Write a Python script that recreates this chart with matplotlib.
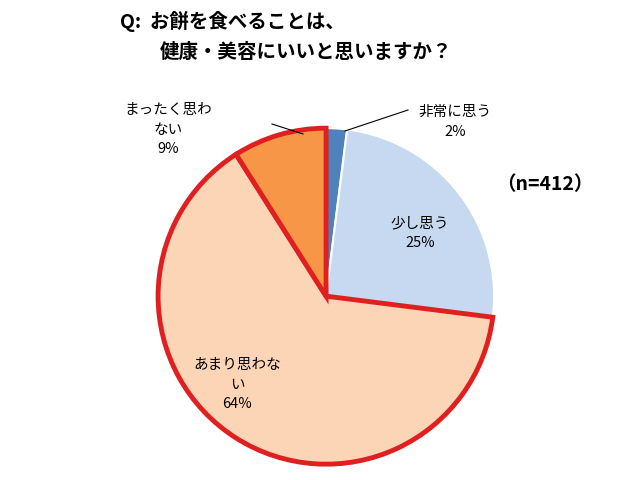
import matplotlib
matplotlib.use("Agg")
import matplotlib.pyplot as plt

plt.rcParams["font.family"] = ["Noto Sans CJK JP", "DejaVu Sans"]

labels = ["非常に思う", "少し思う", "あまり思わない", "まったく思わない"]
values = [2, 25, 64, 9]
colors = ["#4F81BD", "#C6D9F1", "#FBD5B5", "#F79646"]
highlight = [False, False, True, True]

fig = plt.figure(figsize=(6.4, 4.8), dpi=100)
ax = fig.add_axes([0.247, 0.033, 0.525, 0.7])
wedges, _ = ax.pie(values, colors=colors, startangle=90, counterclock=False)
for w, hl in zip(wedges, highlight):
    if hl:
        w.set_edgecolor("#E02020")
        w.set_linewidth(3.5)
        w.set_zorder(3)
    else:
        w.set_edgecolor("white")
        w.set_linewidth(1.5)
ax.set_xlim(-1, 1)
ax.set_ylim(-1, 1)
ax.set_aspect("equal")
ax.axis("off")

fig.text(120 / 640, 1 - 22 / 480, "Q:  お餅を食べることは、", fontsize=14, fontweight="bold", va="center")
fig.text(160 / 640, 1 - 52 / 480, "健康・美容にいいと思いますか？", fontsize=14, fontweight="bold", va="center")
fig.text(545 / 640, 1 - 185 / 480, "（n=412）", fontsize=14, fontweight="bold", ha="center", va="center")

def lab(x, y, s):
    fig.text(x / 640, 1 - y / 480, s, fontsize=10.5, ha="center", va="center", linespacing=1.5)

lab(455, 122, f"{labels[0]}\n{values[0]}%")
lab(420, 233, f"{labels[1]}\n{values[1]}%")
lab(237, 385, f"{labels[2][:-1]}\n{labels[2][-1]}\n{values[2]}%")
lab(168, 130, f"{labels[3][:-2]}\n{labels[3][-2:]}\n{values[3]}%")

fig.add_artist(plt.Line2D([408 / 640, 345 / 640], [1 - 110 / 480, 1 - 131 / 480], color="black", lw=0.8))
fig.add_artist(plt.Line2D([272 / 640, 303 / 640], [1 - 124 / 480, 1 - 134 / 480], color="black", lw=0.8))

fig.savefig("out.png", dpi=100)
